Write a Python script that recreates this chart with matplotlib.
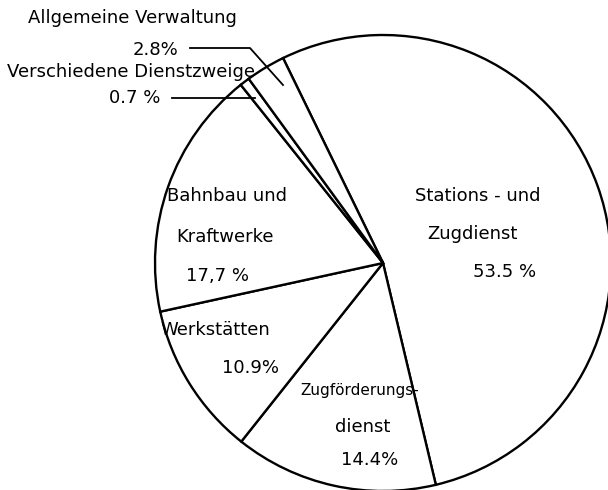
import numpy as np
import matplotlib.pyplot as plt

# shares in percent, clockwise from the top
labels = ['Stations- und Zugdienst', 'Zugförderungsdienst', 'Werkstätten',
          'Bahnbau und Kraftwerke', 'Verschiedene Dienstzweige', 'Allgemeine Verwaltung']
shares = [53.5, 14.4, 10.9, 17.7, 0.7, 2.8]
pct_text = ['53.5 %', '14.4%', '10.9%', '17,7 %', '0.7 %', '2.8%']

W, H = 608, 490
fig = plt.figure(figsize=(W / 100, H / 100), dpi=100)
ax = fig.add_axes([0, 0, 1, 1])

cx, cy, R = 383, H - 263, 228
ax.pie(shares, startangle=116, counterclock=False, center=(cx, cy), radius=R,
       colors=['white'] * len(shares),
       wedgeprops=dict(edgecolor='black', linewidth=1.7), frame=True)
ax.set_xlim(0, W)
ax.set_ylim(0, H)
ax.set_aspect('equal')
ax.axis('off')

fs = 13
kw = dict(fontsize=fs, ha='center', va='center', color='black')

def t(x, y, s, **extra):
    d = dict(kw)
    d.update(extra)
    ax.text(x, H - y, s, **d)

# Stations- und Zugdienst
t(478, 196, 'Stations - und')
t(472, 234, 'Zugdienst')
t(505, 272, pct_text[0])
# Bahnbau und Kraftwerke
t(227, 196, 'Bahnbau und')
t(225, 237, 'Kraftwerke')
t(218, 276, pct_text[3])
# Werkstätten
t(215, 330, 'Werkstätten')
t(250, 368, pct_text[2])
# Zugförderungsdienst
t(360, 390, 'Zugförderungs-', fontsize=11)
t(363, 427, 'dienst')
t(370, 460, pct_text[1])
# small slices with leader lines
t(132, 18, 'Allgemeine Verwaltung')
t(155, 50, pct_text[5])
ax.plot([190, 250, 283], [H - 48, H - 48, H - 85], color='black', lw=1.3)
t(131, 72, 'Verschiedene Dienstzweige')
t(135, 98, pct_text[4])
ax.plot([172, 255], [H - 98, H - 98], color='black', lw=1.3)

plt.savefig('out.png', dpi=100)
